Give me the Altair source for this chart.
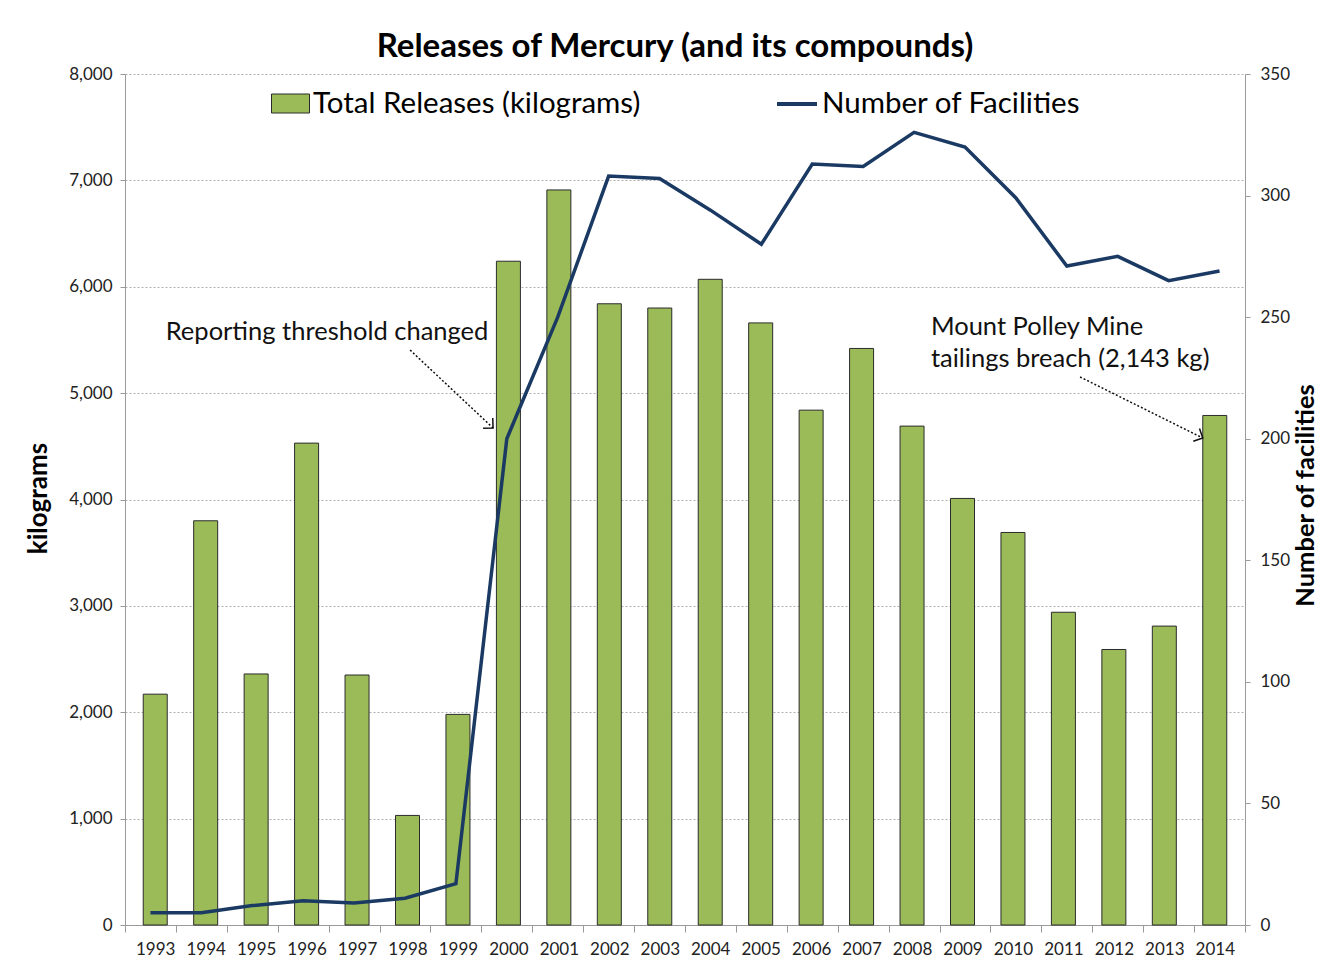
import altair as alt
import pandas as pd

years = list(range(1993, 2015))
releases_kg = [2170, 3800, 2360, 4530, 2350, 1030, 1980, 6240, 6910, 5840, 5800,
               6070, 5660, 4840, 5420, 4690, 4010, 3690, 2940, 2590, 2810, 4790]
facilities = [5, 5, 8, 10, 9, 11, 17, 200, 250, 308, 307, 294, 280, 313, 312,
              326, 320, 299, 271, 275, 265, 269]

bar_name = "Total Releases (kilograms)"
line_name = "Number of Facilities"

note_text = ["Reporting threshold changed", "Mount Polley Mine\ntailings breach (2,143 kg)"]
note_x = [1993.3, 2008.33]
note_y = [5500, 5550]

arrow_x1 = [1998.1, 2011.26]
arrow_y1 = [5405, 5152]
arrow_x2 = [1999.73, 2013.67]
arrow_y2 = [4672, 4578]
arrow_angle = [43, 26]

x_ticks = [y - 0.5 for y in years] + [years[-1] + 0.5]

FONT = "Lato"
GREEN = "#9BBB59"
NAVY = "#1B3A63"
XDOM = [1992.5, 2014.5]

df = pd.DataFrame({"year": years, "kg": releases_kg, "fac": facilities,
                   "s1": bar_name, "s2": line_name})
notes = pd.DataFrame({"t": note_text, "x": note_x, "y": note_y})
arrows = pd.DataFrame({"x1": arrow_x1, "y1": arrow_y1, "x2": arrow_x2,
                       "y2": arrow_y2, "ang": arrow_angle})

xs = alt.Scale(domain=XDOM, nice=False, zero=False)
ys = alt.Scale(domain=[0, 8000], nice=False)

bars = alt.Chart(df).mark_bar(size=24, stroke="#2b2b2b", strokeWidth=1).encode(
    x=alt.X("year:Q", scale=xs, title=None,
            axis=alt.Axis(values=years, format="d", ticks=False, grid=False,
                          labelFontSize=17, labelFont=FONT, labelColor="#222",
                          labelPadding=16, domainColor="#9a9a9a", orient="bottom",
                          labelFlush=False, labelOverlap=False)),
    y=alt.Y("kg:Q", scale=ys, title="kilograms",
            axis=alt.Axis(values=list(range(0, 8001, 1000)), format=",.0f", orient="left",
                          grid=True, gridDash=[2, 2], gridColor="#b0b0b0",
                          labelFontSize=17, labelFont=FONT, labelColor="#222",
                          labelPadding=8, tickSize=5, tickColor="#9a9a9a",
                          domainColor="#9a9a9a", titleFont=FONT, titleFontSize=26,
                          titleFontWeight="bold", titleColor="#000",
                          titleX=-87, titleY=424, titleAngle=270,
                          titleBaseline="middle", titleAlign="center")),
    fill=alt.Fill("s1:N", scale=alt.Scale(domain=[bar_name], range=[GREEN]),
                  legend=alt.Legend(title=None, orient="none", legendX=146, legendY=10,
                                    symbolType="M-1,-0.5L1,-0.5L1,0.5L-1,0.5Z",
                                    symbolSize=1444, symbolStrokeColor="#2b2b2b",
                                    symbolStrokeWidth=1, labelFontSize=29.5, labelFont=FONT,
                                    labelColor="#000", labelOffset=3, padding=0,
                                    labelLimit=600)),
)

line = alt.Chart(df).mark_line(strokeWidth=3.5).encode(
    x=alt.X("year:Q", scale=xs, title=None,
            axis=alt.Axis(values=x_ticks, labels=False, ticks=True, tickSize=7,
                          tickColor="#9a9a9a", grid=False, domain=False, orient="bottom")),
    y=alt.Y("fac:Q", scale=alt.Scale(domain=[0, 350], nice=False), title="Number of facilities",
            axis=alt.Axis(values=list(range(0, 351, 50)), orient="right", grid=False,
                          labelFontSize=17, labelFont=FONT, labelColor="#222",
                          labelPadding=10, tickSize=5, tickColor="#9a9a9a",
                          domainColor="#9a9a9a", titleFont=FONT, titleFontSize=25.5,
                          titleFontWeight="bold", titleAngle=270, titleColor="#000",
                          titleX=60, titleY=421, titleBaseline="middle",
                          titleAlign="center")),
    stroke=alt.Stroke("s2:N", scale=alt.Scale(domain=[line_name], range=[NAVY]),
                      legend=alt.Legend(title=None, orient="none", legendX=650, legendY=8,
                                        symbolSize=1600, symbolStrokeWidth=4,
                                        labelFontSize=29.5, labelFont=FONT, labelColor="#000",
                                        labelOffset=3, padding=0, labelLimit=600)),
)

text = alt.Chart(notes).mark_text(align="left", baseline="alphabetic", fontSize=25.5,
                                  font=FONT, color="#111", lineBreak="\n",
                                  lineHeight=32).encode(
    x=alt.X("x:Q", scale=xs, axis=None),
    y=alt.Y("y:Q", scale=ys, axis=None),
    text="t:N",
)

rules = alt.Chart(arrows).mark_rule(strokeDash=[2, 2], strokeWidth=1.5, color="#111").encode(
    x=alt.X("x1:Q", scale=xs, axis=None),
    y=alt.Y("y1:Q", scale=ys, axis=None),
    x2="x2:Q",
    y2="y2:Q",
)

heads = alt.Chart(arrows).mark_point(shape="M-1,-1L0,0L-1,1", filled=False, size=200,
                                     strokeWidth=1.5, color="#111", opacity=1).encode(
    x=alt.X("x2:Q", scale=xs, axis=None),
    y=alt.Y("y2:Q", scale=ys, axis=None),
    angle=alt.Angle("ang:Q", scale=None),
)

chart = alt.layer(bars, line, text, rules, heads).resolve_scale(
    x="independent", y="independent", fill="independent", stroke="independent"
).resolve_axis(x="independent", y="independent").properties(
    width=1120, height=851,
    autosize="none",
    padding={"left": 117, "top": 66, "right": 74, "bottom": 38},
    background="white",
    title=alt.Title("Releases of Mercury (and its compounds)", fontSize=33, font=FONT,
                    fontWeight="bold", anchor="middle", frame="group", offset=1,
                    dx=-10, color="#000"),
).configure_view(stroke="transparent")

chart.save("out.html", embed_options={"renderer": "svg", "actions": False})
